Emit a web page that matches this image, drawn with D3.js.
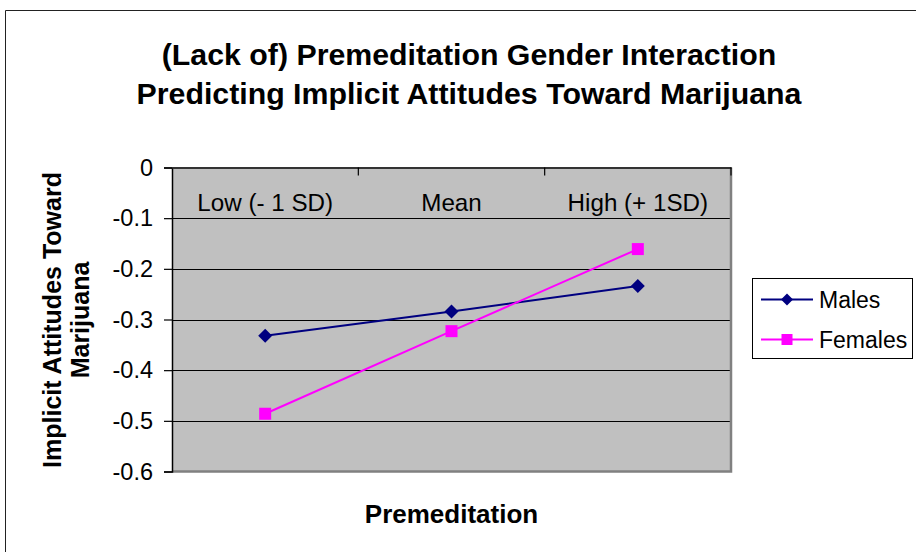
<!DOCTYPE html>
<html>
<head>
<meta charset="utf-8">
<script src="https://cdn.jsdelivr.net/npm/d3@7"></script>
<style>
  html, body { margin: 0; padding: 0; background: #fff; }
  svg { display: block; font-family: "Liberation Sans", Arial, sans-serif; }
</style>
</head>
<body>
<svg id="chart" width="916" height="552"></svg>
<script>
// ---- data ----
const categories = ["Low (- 1 SD)", "Mean", "High (+ 1SD)"];
const malesValues = [-0.332, -0.284, -0.234];
const femalesValues = [-0.486, -0.323, -0.161];
const seriesNames = ["Males", "Females"];
const yTicks = [0, -0.1, -0.2, -0.3, -0.4, -0.5, -0.6];
const titleLines = ["(Lack of) Premeditation Gender Interaction", "Predicting Implicit Attitudes Toward Marijuana"];
const yTitleLines = ["Implicit Attitudes Toward", "Marijuana"];
const xTitle = "Premeditation";

const series = [
  { name: seriesNames[0], values: malesValues, color: "#000080", marker: "diamond" },
  { name: seriesNames[1], values: femalesValues, color: "#FF00FF", marker: "square" }
];

const svg = d3.select("#chart");

// outer chart border
svg.append("path")
  .attr("d", "M5.5,552 V10.5 H916")
  .attr("fill", "none").attr("stroke", "#222").attr("stroke-width", 1);

const plot = { left: 172, right: 731, top: 167.5, bottom: 471.5 };

const x = d3.scaleBand().domain(categories).range([plot.left, plot.right]).padding(0);
const y = d3.scaleLinear().domain([-0.6, 0]).range([plot.bottom, plot.top]);

// plot background
svg.append("rect")
  .attr("x", plot.left).attr("y", plot.top)
  .attr("width", plot.right - plot.left).attr("height", plot.bottom - plot.top)
  .attr("fill", "#C0C0C0");

// gridlines
svg.append("g").selectAll("line")
  .data(yTicks.filter(t => t !== 0 && t !== -0.6))
  .join("line")
  .attr("x1", plot.left).attr("x2", plot.right)
  .attr("y1", d => Math.round(y(d)) + 0.5).attr("y2", d => Math.round(y(d)) + 0.5)
  .attr("stroke", "#000").attr("stroke-width", 1);

// right and bottom frame (gray)
svg.append("path")
  .attr("d", `M${plot.right},${plot.top} V${plot.bottom} H${plot.left}`)
  .attr("fill", "none").attr("stroke", "#808080").attr("stroke-width", 2.5);

// y axis
const yAxis = d3.axisLeft(y).tickValues(yTicks).tickSize(8).tickPadding(11)
  .tickFormat(d => d === 0 ? "0" : d3.format(".1f")(d).replace("−", "-"));
const gy = svg.append("g").attr("transform", `translate(${plot.left},0)`).call(yAxis);
gy.select(".domain").attr("stroke", "#000").attr("stroke-width", 1.5);
gy.selectAll(".tick line").attr("stroke", "#000").attr("stroke-width", 1.2);
gy.selectAll(".tick text")
  .attr("font-size", 23.5).attr("fill", "#000")
  .attr("font-family", "'Liberation Sans', Arial, sans-serif");

// x axis at y = 0 (top), labels inside plot
const xAxis = d3.axisBottom(x).tickSize(0).tickPadding(26);
const gx = svg.append("g").attr("transform", `translate(0,${y(0)})`).call(xAxis);
gx.select(".domain").attr("stroke", "#333").attr("stroke-width", 2);
gx.selectAll(".tick text")
  .attr("font-size", 24.2).attr("fill", "#000")
  .attr("font-family", "'Liberation Sans', Arial, sans-serif");
// category boundary ticks (pointing down into plot)
gx.selectAll(".bound")
  .data(categories.slice(1).concat(["__end"]))
  .join("line").attr("class", "bound")
  .attr("x1", d => d === "__end" ? plot.right : x(d))
  .attr("x2", d => d === "__end" ? plot.right : x(d))
  .attr("y1", 0).attr("y2", 8)
  .attr("stroke", "#000").attr("stroke-width", 1.2);

// lines and markers
const line = d3.line()
  .x((d, i) => x(categories[i]) + x.bandwidth() / 2)
  .y(d => y(d));

const diamond = s => `M0,${-s} L${s},0 L0,${s} L${-s},0 Z`;

series.forEach(s => {
  svg.append("path")
    .datum(s.values)
    .attr("d", line)
    .attr("fill", "none").attr("stroke", s.color).attr("stroke-width", 2);
  const g = svg.append("g");
  g.selectAll("path")
    .data(s.values)
    .join("path")
    .attr("transform", (d, i) => `translate(${x(categories[i]) + x.bandwidth() / 2},${y(d)})`)
    .attr("d", s.marker === "diamond" ? diamond(7) : "M-6,-6 H6 V6 H-6 Z")
    .attr("fill", s.color);
});

// title
svg.append("text")
  .attr("text-anchor", "middle").attr("font-weight", "bold").attr("font-size", 30.3)
  .selectAll("tspan").data(titleLines).join("tspan")
  .attr("x", 469).attr("y", (d, i) => i === 0 ? 65 : 104)
  .text(d => d);

// y axis title
svg.append("text")
  .attr("transform", "translate(0,320) rotate(-90)")
  .attr("text-anchor", "middle").attr("font-weight", "bold").attr("font-size", 25)
  .selectAll("tspan").data(yTitleLines).join("tspan")
  .attr("x", 0).attr("y", (d, i) => i === 0 ? 61 : 89)
  .text(d => d);

// x axis title
svg.append("text")
  .attr("x", (plot.left + plot.right) / 2).attr("y", 523)
  .attr("text-anchor", "middle").attr("font-weight", "bold").attr("font-size", 26)
  .text(xTitle);

// legend
const legend = svg.append("g");
legend.append("rect")
  .attr("x", 752.5).attr("y", 278.5).attr("width", 160).attr("height", 80)
  .attr("fill", "#fff").attr("stroke", "#000").attr("stroke-width", 1);
const rows = legend.selectAll(".row").data(series).join("g")
  .attr("class", "row")
  .attr("transform", (d, i) => `translate(0,${i === 0 ? 299.5 : 339.5})`);
rows.append("line")
  .attr("x1", 761).attr("x2", 813).attr("y1", 0).attr("y2", 0)
  .attr("stroke", d => d.color).attr("stroke-width", 2);
rows.append("path")
  .attr("transform", "translate(787,0)")
  .attr("d", d => d.marker === "diamond" ? diamond(6) : "M-5.5,-5.5 H5.5 V5.5 H-5.5 Z")
  .attr("fill", d => d.color);
rows.append("text")
  .attr("x", 819).attr("y", 0).attr("dy", "0.36em")
  .attr("font-size", 23)
  .text(d => d.name);
</script>
</body>
</html>
